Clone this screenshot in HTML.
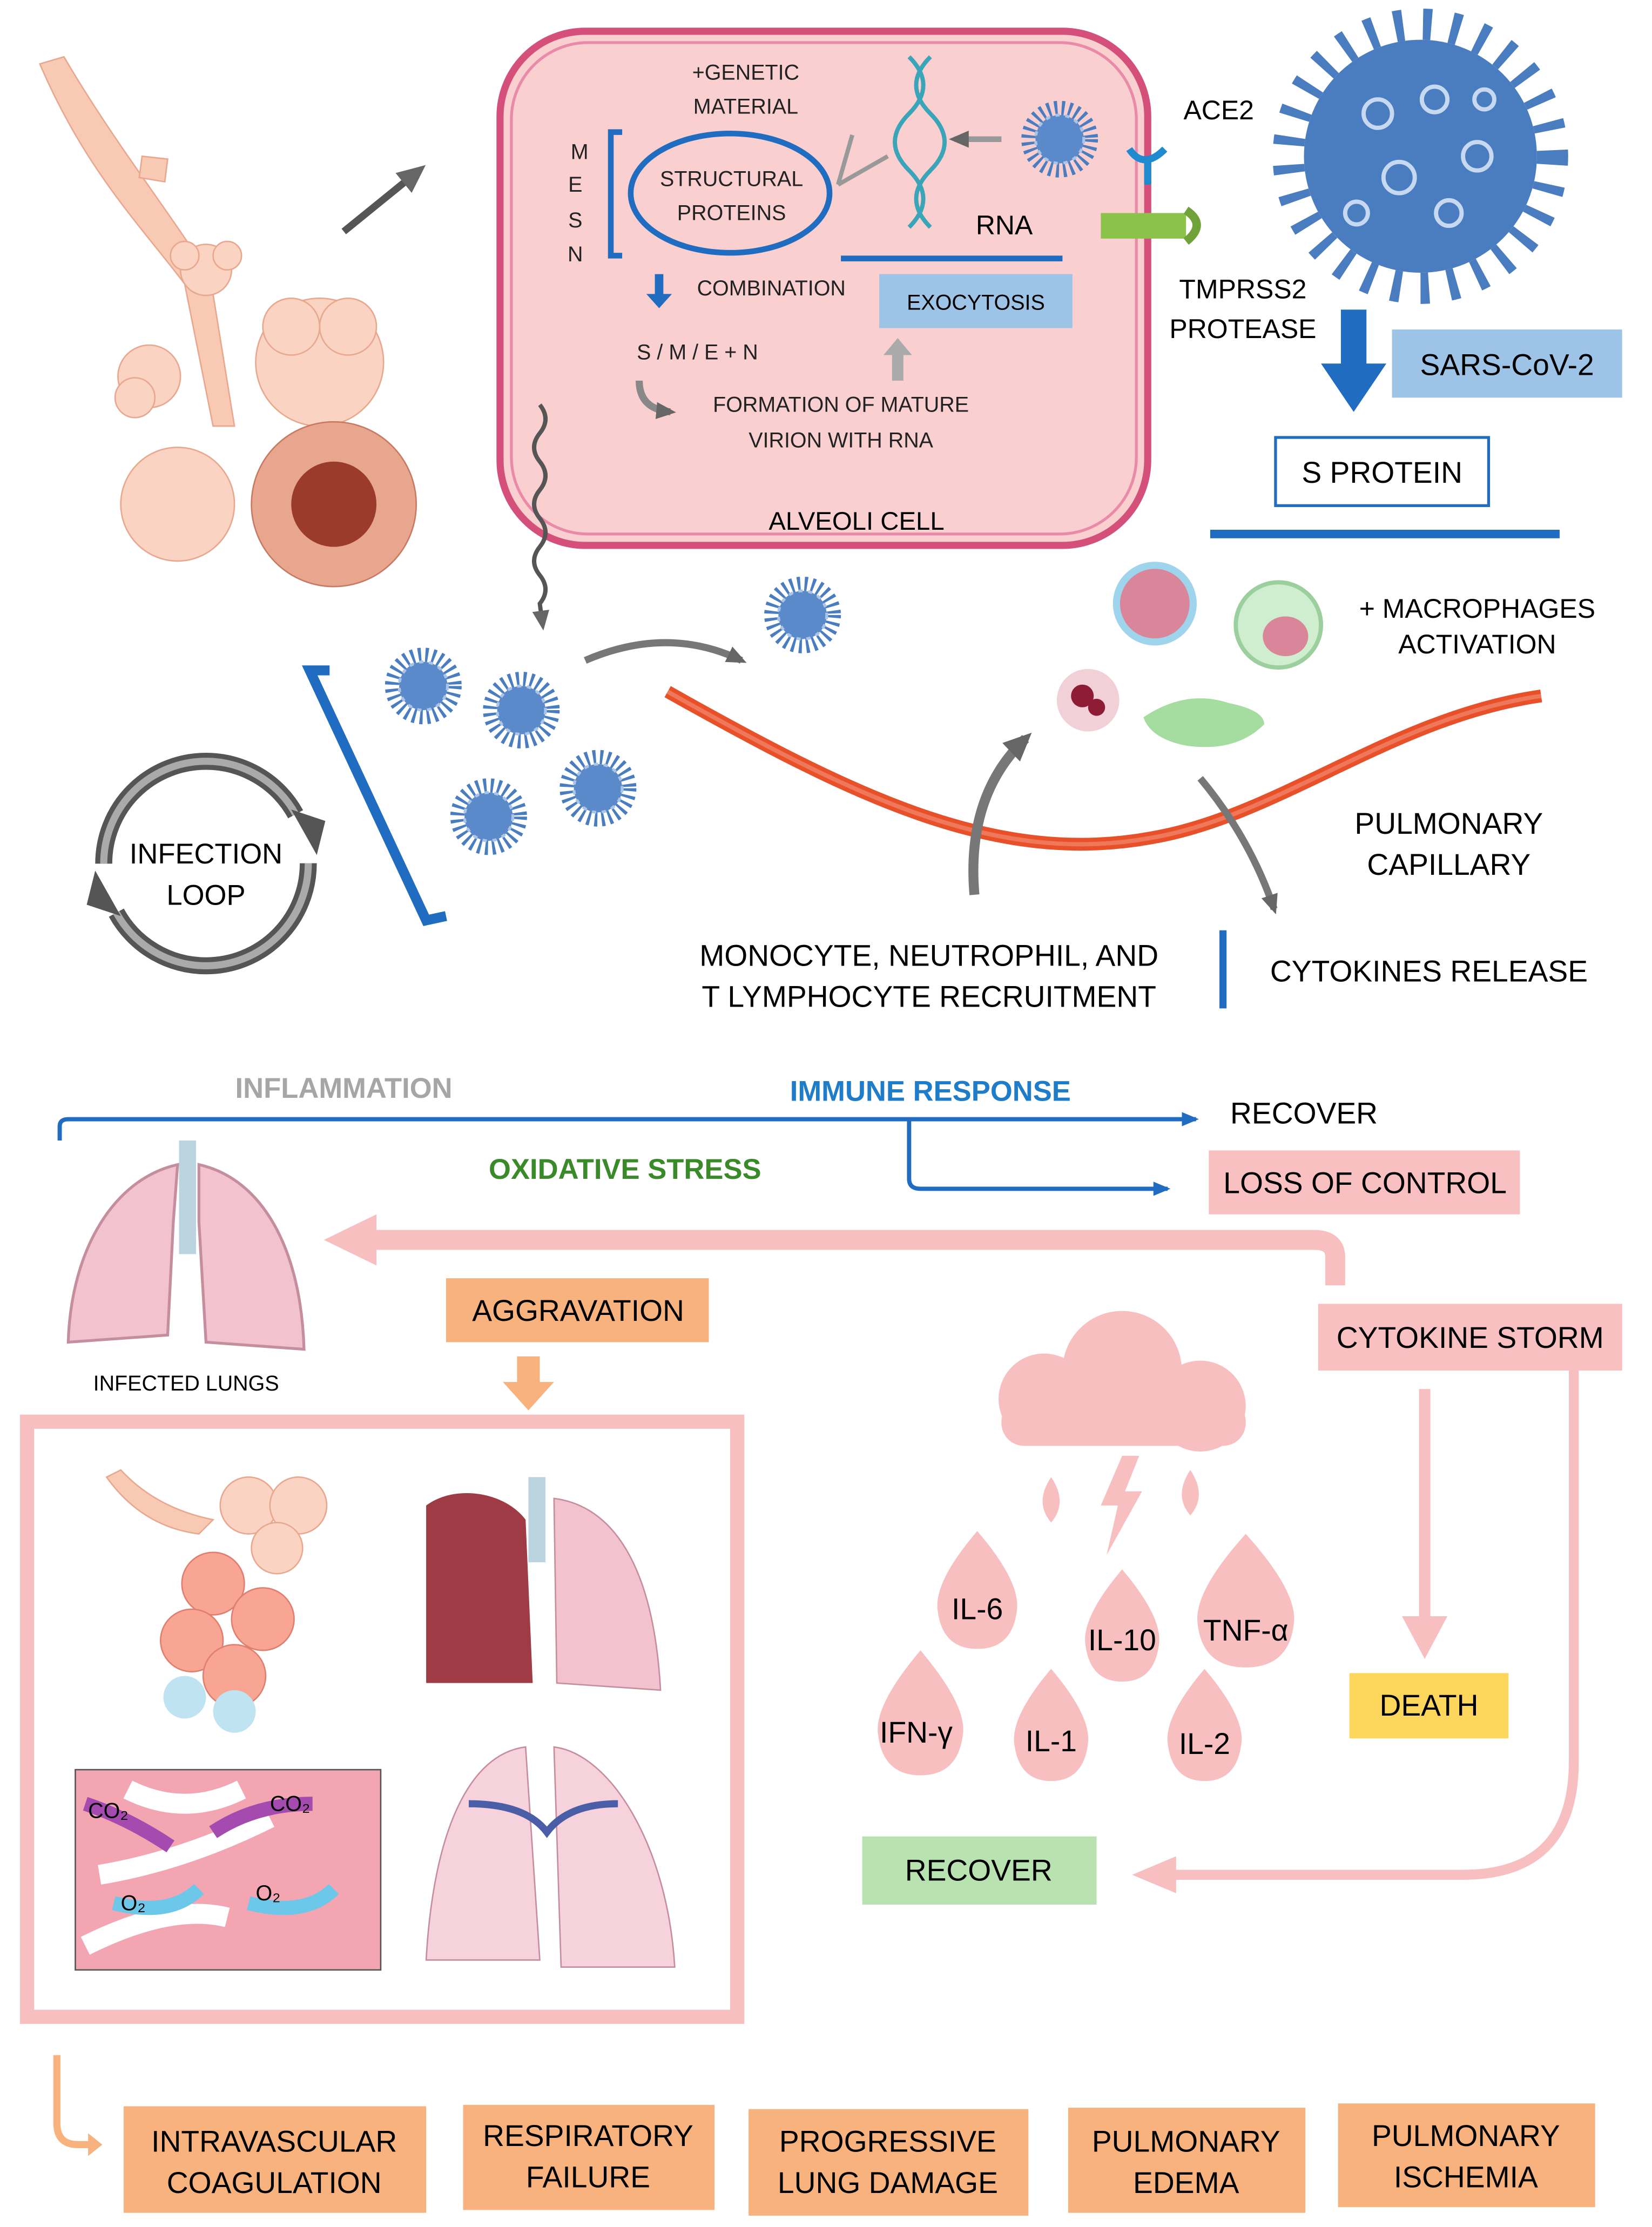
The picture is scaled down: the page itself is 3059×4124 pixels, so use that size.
<!DOCTYPE html>
<html><head><meta charset="utf-8"><style>html,body{margin:0;padding:0;background:#fff}svg{display:block}</style></head><body>
<svg width="3059" height="4124" viewBox="0 0 1163 1568" xmlns="http://www.w3.org/2000/svg" font-family="Liberation Sans, sans-serif">
<defs>
<marker id="ab" markerUnits="userSpaceOnUse" markerWidth="12" markerHeight="10" refX="10" refY="5" orient="auto"><path d="M0,0 L12,5 L0,10z" fill="#1f6cc0"/></marker>
<marker id="ag" markerUnits="userSpaceOnUse" markerWidth="20" markerHeight="18" refX="14" refY="9" orient="auto"><path d="M0,0 L20,9 L0,18z" fill="#666"/></marker>
<marker id="as" markerUnits="userSpaceOnUse" markerWidth="14" markerHeight="12" refX="10" refY="6" orient="auto"><path d="M0,0 L14,6 L0,12z" fill="#666"/></marker>
<g id="v"><circle r="22" fill="none" stroke="#4a7cc0" stroke-width="10" stroke-dasharray="2 3"/><circle r="17" fill="#5b8acb"/><circle r="17" fill="none" stroke="#a9c4e6" stroke-width="2" stroke-dasharray="3 4"/></g>
</defs>
<!-- bronchi / alveoli top-left -->
<path d="M28,45 C60,120 100,160 130,200 L150,300 L165,300 L148,195 C120,150 80,100 45,40z" fill="#f8c9b3" stroke="#e8a88f"/>
<path d="M100,110 L118,112 L116,128 L98,125z" fill="#f8c9b3" stroke="#e8a88f"/>
<g fill="#fbd3c2" stroke="#e8a88f">
<circle cx="145" cy="190" r="18"/><circle cx="130" cy="180" r="10"/><circle cx="160" cy="180" r="10"/>
<circle cx="225" cy="255" r="45"/><circle cx="205" cy="230" r="20"/><circle cx="245" cy="230" r="20"/>
<circle cx="125" cy="355" r="40"/><circle cx="105" cy="265" r="22"/><circle cx="95" cy="280" r="14"/>
</g>
<circle cx="235" cy="355" r="58" fill="#e9a68e" stroke="#c77a63"/><circle cx="235" cy="355" r="30" fill="#9a3b2c"/>
<line x1="242" y1="163" x2="295" y2="120" stroke="#555" stroke-width="5" marker-end="url(#ag)"/>
<!-- alveoli cell -->
<rect x="352" y="22" width="456" height="362" rx="60" fill="#f9cfd0" stroke="#d4507a" stroke-width="5"/>
<rect x="360" y="30" width="440" height="346" rx="54" fill="none" stroke="#e98aa8" stroke-width="2"/>
<g font-size="15" fill="#222" text-anchor="middle">
<text x="525" y="56">+GENETIC</text><text x="525" y="80">MATERIAL</text>
<text x="408" y="112">M</text><text x="405" y="135">E</text><text x="405" y="160">S</text><text x="405" y="184">N</text>
<text x="515" y="131">STRUCTURAL</text><text x="515" y="155">PROTEINS</text>
<text x="543" y="208">COMBINATION</text>
<text x="491" y="253">S / M / E + N</text>
<text x="592" y="290">FORMATION  OF MATURE</text><text x="592" y="315">VIRION WITH RNA</text>
</g>
<path d="M438,93 L430,93 L430,180 L438,180" fill="none" stroke="#1f6cc0" stroke-width="4"/>
<ellipse cx="514" cy="136" rx="70" ry="42" fill="none" stroke="#1f6cc0" stroke-width="4"/>
<path d="M590,130 L625,110 M600,95 L590,130" stroke="#999" stroke-width="3" fill="none"/>
<path d="M640,40 Q660,60 640,80 Q620,100 640,120 Q660,140 640,160 M655,40 Q635,60 655,80 Q675,100 655,120 Q635,140 655,160" stroke="#3aa4b8" stroke-width="3" fill="none"/>
<text x="707" y="165" font-size="19" text-anchor="middle">RNA</text>
<path d="M705,98 L672,98" stroke="#999" stroke-width="4" marker-end="url(#as)"/>
<use href="#v" x="746" y="98"/>
<line x1="592" y1="182" x2="748" y2="182" stroke="#1f6cc0" stroke-width="4"/>
<rect x="619" y="193" width="136" height="38" fill="#9dc3e6"/><text x="687" y="218" font-size="15" text-anchor="middle">EXOCYTOSIS</text>
<path d="M461,193 v14 h-6 l9,10 l9,-10 h-6 v-14z" fill="#1f6cc0"/>
<path d="M628,268 v-18 h-6 l10,-12 l10,12 h-6 v18z" fill="#aaa"/>
<path d="M450,268 q0,20 22,22" stroke="#888" stroke-width="5" fill="none" marker-end="url(#as)"/>
<text x="603" y="373" font-size="18" text-anchor="middle">ALVEOLI CELL</text>
<path d="M380,285 q8,10 0,20 q-8,10 0,20 q8,10 0,20 q-8,10 0,20 q8,10 0,20 q-8,10 0,20 q8,10 0,20 L382,440" stroke="#555" stroke-width="3" fill="none" marker-end="url(#as)"/>
<!-- receptors -->
<path d="M795,105 q10,15 25,0 M808,110 v20" stroke="#1f8ad0" stroke-width="5" fill="none"/>
<text x="858" y="84" font-size="19" text-anchor="middle">ACE2</text>
<rect x="775" y="150" width="60" height="18" fill="#8bc34a"/><path d="M835,148 q15,10 0,22" stroke="#6fa33a" stroke-width="6" fill="none"/>
<text x="875" y="210" font-size="19" text-anchor="middle">TMPRSS2</text><text x="875" y="238" font-size="19" text-anchor="middle">PROTEASE</text>
<!-- big virus -->
<circle cx="1000" cy="110" r="93" fill="none" stroke="#4a7cc0" stroke-width="22" stroke-dasharray="6 14"/>
<circle cx="1000" cy="110" r="82" fill="#4a7cc0"/>
<g fill="none" stroke="#c7d9f0" stroke-width="3"><circle cx="970" cy="80" r="10"/><circle cx="1010" cy="70" r="9"/><circle cx="1040" cy="110" r="10"/><circle cx="985" cy="125" r="11"/><circle cx="1020" cy="150" r="9"/><circle cx="955" cy="150" r="8"/><circle cx="1045" cy="70" r="7"/></g>
<path d="M944,218 h18 v38 h14 l-23,34 l-23,-34 h14z" fill="#1f6cc0"/>
<rect x="980" y="232" width="162" height="48" fill="#9dc3e6"/><text x="1061" y="264" font-size="21" text-anchor="middle">SARS-CoV-2</text>
<rect x="898" y="308" width="150" height="48" fill="#fff" stroke="#1f6cc0" stroke-width="2"/><text x="973" y="340" font-size="21" text-anchor="middle">S PROTEIN</text>
<line x1="852" y1="376" x2="1098" y2="376" stroke="#1f6cc0" stroke-width="6"/>
<!-- middle -->
<path d="M232,472 L218,472 L300,648 L314,645" fill="none" stroke="#1f6cc0" stroke-width="7"/>
<use href="#v" x="298" y="483"/><use href="#v" x="367" y="500"/><use href="#v" x="344" y="575"/><use href="#v" x="421" y="555"/><use href="#v" x="565" y="433"/>
<path d="M412,465 Q470,440 522,465" stroke="#777" stroke-width="5" fill="none" marker-end="url(#as)"/>
<circle cx="145" cy="608" r="72" fill="none" stroke="#555" stroke-width="12" stroke-dasharray="190 36"/>
<circle cx="145" cy="608" r="72" fill="none" stroke="#aaa" stroke-width="5" stroke-dasharray="190 36"/>
<path d="M205,570 l24,8 l-6,24z" fill="#555"/><path d="M85,645 l-24,-8 l6,-24z" fill="#555"/>
<text x="145" y="608" font-size="20" text-anchor="middle">INFECTION</text><text x="145" y="637" font-size="20" text-anchor="middle">LOOP</text>
<path d="M470,487 C600,560 700,610 810,590 C900,575 980,505 1085,490" stroke="#e8502a" stroke-width="9" fill="none"/>
<path d="M470,487 C600,560 700,610 810,590 C900,575 980,505 1085,490" stroke="#f0785a" stroke-width="3" fill="none"/>
<circle cx="813" cy="425" r="27" fill="#d9869a" stroke="#9ed4ec" stroke-width="5"/>
<circle cx="900" cy="440" r="30" fill="#cfeed0" stroke="#9ccf9e" stroke-width="3"/><ellipse cx="905" cy="448" rx="16" ry="14" fill="#d9869a"/>
<circle cx="766" cy="493" r="22" fill="#f1d0d8"/><circle cx="762" cy="490" r="8" fill="#8e1c35"/><circle cx="772" cy="498" r="6" fill="#8e1c35"/>
<path d="M805,505 q30,-20 60,-10 q25,5 25,15 q-20,20 -55,15 q-25,-5 -30,-20z" fill="#a5dca0"/>
<text x="1040" y="435" font-size="19" text-anchor="middle">+ MACROPHAGES</text><text x="1040" y="460" font-size="19" text-anchor="middle">ACTIVATION</text>
<path d="M686,630 Q680,560 722,520" stroke="#777" stroke-width="7" fill="none" marker-end="url(#ag)"/>
<path d="M845,548 Q880,590 897,640" stroke="#777" stroke-width="5" fill="none" marker-end="url(#as)"/>
<text x="1020" y="587" font-size="21" text-anchor="middle">PULMONARY</text><text x="1020" y="616" font-size="21" text-anchor="middle">CAPILLARY</text>
<text x="654" y="680" font-size="21" text-anchor="middle">MONOCYTE, NEUTROPHIL, AND</text><text x="654" y="709" font-size="21" text-anchor="middle">T LYMPHOCYTE RECRUITMENT</text>
<line x1="861" y1="655" x2="861" y2="710" stroke="#1f6cc0" stroke-width="5"/>
<text x="1006" y="691" font-size="21" text-anchor="middle">CYTOKINES RELEASE</text>
<!-- lower -->
<text x="242" y="773" font-size="20" fill="#a6a6a6" font-weight="bold" text-anchor="middle">INFLAMMATION</text>
<text x="655" y="775" font-size="20" fill="#1f7cc8" font-weight="bold" text-anchor="middle">IMMUNE RESPONSE</text>
<text x="440" y="830" font-size="20" fill="#3a8a2a" font-weight="bold" text-anchor="middle">OXIDATIVE STRESS</text>
<path d="M42,803 V793 Q42,788 48,788 H842" stroke="#1f6cc0" stroke-width="3" fill="none" marker-end="url(#ab)"/>
<path d="M640,788 V830 Q640,837 648,837 H822" stroke="#1f6cc0" stroke-width="3" fill="none" marker-end="url(#ab)"/>
<text x="918" y="791" font-size="21" text-anchor="middle">RECOVER</text>
<rect x="851" y="810" width="219" height="45" fill="#f8c0c0"/><text x="961" y="840" font-size="21" text-anchor="middle">LOSS OF CONTROL</text>
<!-- lungs -->
<path d="M125,820 C80,830 50,880 48,945 L118,940 L122,860z" fill="#f2c3cf" stroke="#c58e9e" stroke-width="2"/>
<path d="M140,820 C185,830 212,880 214,950 L145,945 L140,860z" fill="#f2c3cf" stroke="#c58e9e" stroke-width="2"/>
<rect x="126" y="803" width="12" height="80" fill="#bcd3e0"/>
<text x="131" y="979" font-size="15" text-anchor="middle">INFECTED  LUNGS</text>
<path d="M940,905 V885 Q940,873 925,873 H255" stroke="#f8bfc0" stroke-width="14" fill="none"/>
<path d="M228,873 L265,855 L265,891z" fill="#f8bfc0"/>
<rect x="314" y="900" width="185" height="45" fill="#f7b27e"/><text x="407" y="930" font-size="21" text-anchor="middle">AGGRAVATION</text>
<path d="M364,955 h16 v18 h10 l-18,20 l-18,-20 h10z" fill="#f7b27e"/>
<rect x="928" y="918" width="214" height="47" fill="#f8c0c0"/><text x="1035" y="949" font-size="21" text-anchor="middle">CYTOKINE STORM</text>
<line x1="1003" y1="978" x2="1003" y2="1140" stroke="#f8bfc0" stroke-width="8"/><path d="M987,1138 L1003,1168 L1019,1138z" fill="#f8bfc0"/>
<rect x="950" y="1178" width="112" height="46" fill="#fdd65c"/><text x="1006" y="1208" font-size="21" text-anchor="middle">DEATH</text>
<path d="M1108,965 V1240 Q1108,1320 1030,1320 H820" stroke="#f8bfc0" stroke-width="7" fill="none"/><path d="M797,1320 L828,1307 L828,1333z" fill="#f8bfc0"/>
<rect x="607" y="1293" width="165" height="48" fill="#b9e2b1"/><text x="689" y="1324" font-size="21" text-anchor="middle">RECOVER</text>
<!-- cloud & drops -->
<g fill="#f8bfc0">
<circle cx="790" cy="965" r="42"/><circle cx="735" cy="985" r="32"/><circle cx="845" cy="990" r="32"/><rect x="705" y="985" width="172" height="33" rx="16"/>
<path d="M740,1040 q-12,18 0,32 q12,-14 0,-32z"/><path d="M838,1035 q-12,18 0,32 q12,-14 0,-32z"/>
<path d="M790,1025 l-15,35 h12 l-8,35 l25,-45 h-12 l10,-25z"/>
<path d="M688,1078 q-30,35 -28,55 q3,28 28,28 q25,0 28,-28 q2,-20 -28,-55z"/>
<path d="M790,1105 q-28,33 -26,52 q3,27 26,27 q23,0 26,-27 q2,-19 -26,-52z"/>
<path d="M877,1080 q-36,40 -34,62 q3,32 34,32 q31,0 34,-32 q2,-22 -34,-62z"/>
<path d="M648,1162 q-32,38 -30,58 q3,30 30,30 q27,0 30,-30 q2,-20 -30,-58z"/>
<path d="M740,1175 q-28,33 -26,52 q3,27 26,27 q23,0 26,-27 q2,-19 -26,-52z"/>
<path d="M848,1175 q-28,33 -26,52 q3,27 26,27 q23,0 26,-27 q2,-19 -26,-52z"/>
</g>
<g font-size="21" text-anchor="middle"><text x="688" y="1140">IL-6</text><text x="790" y="1162">IL-10</text><text x="877" y="1155">TNF-α</text><text x="645" y="1227">IFN-γ</text><text x="740" y="1233">IL-1</text><text x="848" y="1235">IL-2</text></g>
<!-- big pink box -->
<rect x="19" y="1001" width="500" height="419" fill="none" stroke="#f8bfc0" stroke-width="10"/>
<path d="M75,1040 Q100,1075 140,1080 L150,1070 Q110,1062 85,1035z" fill="#f8c9b3" stroke="#e8a88f"/>
<g fill="#f8a594" stroke="#e07e70"><circle cx="150" cy="1115" r="22"/><circle cx="185" cy="1140" r="22"/><circle cx="135" cy="1155" r="22"/><circle cx="165" cy="1180" r="22"/></g>
<g fill="#fbd3c2" stroke="#e8a88f"><circle cx="175" cy="1060" r="20"/><circle cx="210" cy="1060" r="20"/><circle cx="195" cy="1090" r="18"/></g>
<g fill="#bfe3f0"><circle cx="130" cy="1195" r="15"/><circle cx="165" cy="1205" r="15"/></g>
<path d="M300,1060 C320,1045 355,1050 370,1070 L375,1185 L300,1185z" fill="#9e3b45"/>
<path d="M390,1055 C430,1060 460,1100 465,1190 L392,1185z" fill="#f2c3cf" stroke="#c58e9e"/>
<rect x="372" y="1040" width="12" height="60" fill="#bcd3e0"/>
<rect x="53" y="1246" width="215" height="141" fill="#f3a6b2" stroke="#555"/>
<path d="M90,1260 q40,20 80,0 M70,1320 q60,-10 120,-40 M60,1370 q60,-30 100,-20" stroke="#fff" stroke-width="14" fill="none"/>
<path d="M60,1270 q30,10 60,30" stroke="#a54bb0" stroke-width="10" fill="none"/><path d="M150,1290 q30,-20 70,-20" stroke="#a54bb0" stroke-width="10" fill="none"/>
<path d="M80,1340 q40,10 60,-10" stroke="#6cc7e8" stroke-width="10" fill="none"/><path d="M175,1340 q40,10 60,-10" stroke="#6cc7e8" stroke-width="10" fill="none"/>
<g font-size="15"><text x="62" y="1280">CO₂</text><text x="190" y="1275">CO₂</text><text x="85" y="1345">O₂</text><text x="180" y="1338">O₂</text></g>
<path d="M370,1230 C330,1235 305,1290 300,1380 L380,1380z M390,1230 C430,1235 470,1300 475,1385 L395,1385z" fill="#f6d2dc" stroke="#c58e9e"/>
<path d="M330,1270 q40,0 55,20 q15,-20 50,-20" stroke="#4a5ea8" stroke-width="5" fill="none"/>
<!-- bottom -->
<path d="M40,1447 V1495 Q40,1510 55,1510 H65" stroke="#f7b27e" stroke-width="5" fill="none"/><path d="M62,1502 L72,1510 L62,1518z" fill="#f7b27e"/>
<g fill="#f7b27e"><rect x="87" y="1483" width="213" height="75"/><rect x="326" y="1482" width="177" height="74"/><rect x="527" y="1485" width="197" height="75"/><rect x="752" y="1484" width="167" height="74"/><rect x="942" y="1481" width="181" height="73"/></g>
<g font-size="21" text-anchor="middle">
<text x="193" y="1515">INTRAVASCULAR</text><text x="193" y="1544">COAGULATION</text>
<text x="414" y="1511">RESPIRATORY</text><text x="414" y="1540">FAILURE</text>
<text x="625" y="1515">PROGRESSIVE</text><text x="625" y="1544">LUNG DAMAGE</text>
<text x="835" y="1515">PULMONARY</text><text x="835" y="1544">EDEMA</text>
<text x="1032" y="1511">PULMONARY</text><text x="1032" y="1540">ISCHEMIA</text>
</g>
</svg>
</body></html>
